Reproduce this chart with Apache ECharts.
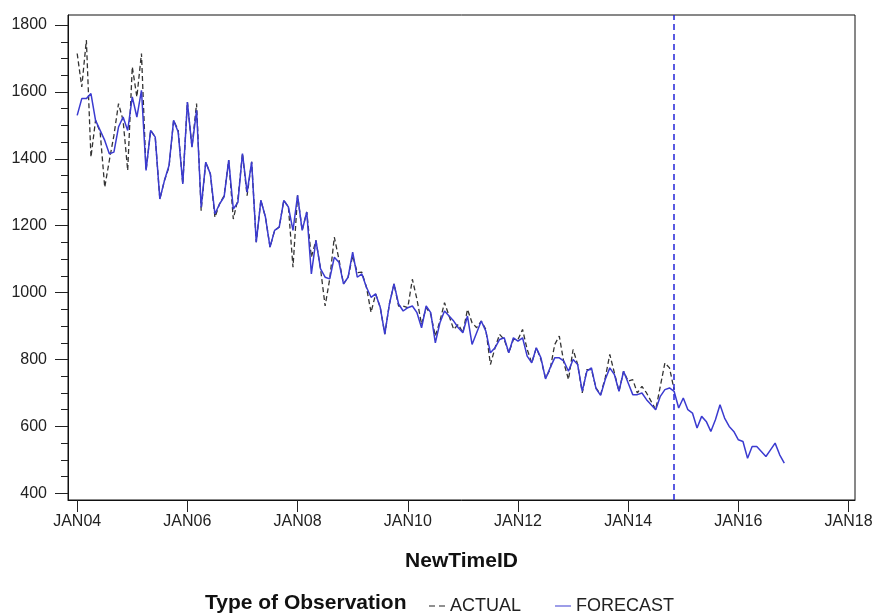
<!DOCTYPE html>
<html>
<head>
<meta charset="utf-8">
<script src="https://cdn.jsdelivr.net/npm/echarts@6/dist/echarts.min.js"></script>
<style>
html,body{margin:0;padding:0;background:#fff;}
#chart{width:872px;height:615px;}
</style>
</head>
<body>
<div id="chart"></div>
<script>
/* monthly series, month 0 = JAN04 */
var actual = [
    1715,1615,1755,1405,1515,1480,1315,1395,1470,1565,1515,1365,
    1675,1585,1715,1365,1485,1465,1280,1335,1375,1515,1485,1325,
    1570,1435,1565,1245,1390,1355,1225,1265,1290,1396,1220,1280,
    1416,1290,1391,1151,1276,1226,1136,1186,1196,1276,1256,1076,
    1291,1186,1241,1106,1156,1071,960,1041,1166,1100,1026,1046,
    1110,1060,1061,1016,941,996,956,876,966,1026,960,960,
    955,1040,980,905,955,935,870,915,970,930,890,905,
    880,950,910,895,915,890,785,835,875,860,820,860,
    860,890,830,790,835,800,745,770,845,870,790,740,
    830,785,700,770,770,715,695,745,815,760,705,765,
    735,740,700,720,700,675,650,720,790,775,710
];
var forecast = [
    1530,1580,1580,1595,1515,1485,1455,1415,1420,1495,1525,1485,
    1585,1525,1605,1365,1485,1465,1280,1335,1380,1515,1480,1325,
    1570,1435,1545,1255,1390,1355,1235,1265,1286,1396,1250,1270,
    1416,1300,1391,1151,1276,1226,1136,1186,1196,1276,1256,1186,
    1291,1186,1241,1056,1156,1071,1046,1041,1106,1091,1026,1046,
    1121,1046,1056,1016,986,996,956,876,966,1026,966,945,
    955,960,940,895,960,940,850,910,945,930,915,895,
    880,930,845,880,915,885,820,835,860,865,820,865,
    855,865,810,790,835,805,742,775,805,805,795,765,
    800,785,705,765,775,713,693,740,775,755,705,765,
    730,695,695,700,680,665,650,690,710,715,705,655,
    685,650,640,595,630,615,585,620,665,625,600,585,
    560,555,505,540,540,525,510,530,550,515,490
];
var lastActualMonth = 130;
var yMajor = [400,600,800,1000,1200,1400,1600,1800];
var yMinor = [450,500,550,650,700,750,850,900,950,1050,1100,1150,1250,1300,1350,1450,1500,1550,1650,1700,1750];
var xTicks = [0,24,48,72,96,120,144,168];
var xTickLabels = ['JAN04','JAN06','JAN08','JAN10','JAN12','JAN14','JAN16','JAN18'];

var myChart = echarts.init(document.getElementById('chart'));
var font = 'Liberation Sans, Arial, sans-serif';

function pairs(arr){
    return arr.map(function(v,i){ return [i,v]; });
}

var option = {
    animation:false,
    textStyle:{fontFamily:font},
    grid:{
        left:68, right:17, top:15, bottom:115,
        outerBoundsMode:'none',
        containLabel:false,
        show:true, borderColor:'#111', borderWidth:1
    },
    xAxis:{
        type:'value',
        min:-2, max:169.4,
        name:'NewTimeID',
        nameLocation:'middle',
        nameGap:51,
        nameTextStyle:{fontSize:21,fontWeight:'bold',color:'#111',fontFamily:font},
        axisLine:{show:true,onZero:false,lineStyle:{color:'#111'}},
        axisTick:{show:true,length:12,customValues:xTicks,lineStyle:{color:'#222'}},
        axisLabel:{
            customValues:xTicks,
            margin:14,
            fontSize:16,
            color:'#222',
            formatter:function(v){ return xTickLabels[xTicks.indexOf(v)]; }
        },
        splitLine:{show:false}
    },
    yAxis:[
        {
            type:'value',
            min:380, max:1830,
            axisLine:{show:true,onZero:false,lineStyle:{color:'#111'}},
            axisTick:{show:true,length:13,customValues:yMajor,lineStyle:{color:'#222'}},
            axisLabel:{
                customValues:yMajor,margin:21,fontSize:16,color:'#222',
                formatter:function(v){ return String(v); }
            },
            splitLine:{show:false}
        },
        {
            type:'value',
            min:380, max:1830,
            position:'left',
            axisLine:{show:false,onZero:false},
            axisTick:{show:true,length:7,customValues:yMinor,lineStyle:{color:'#222'}},
            axisLabel:{show:false},
            splitLine:{show:false}
        }
    ],
    legend:{
        left:424, top:592,
        itemWidth:16, itemHeight:2, itemGap:34, itemTextGap:7,
        textStyle:{fontSize:18,color:'#222',fontFamily:font},
        data:[
            {name:'ACTUAL',icon:'path://M0,0h6v1h-6z M10,0h6v1h-6z',itemStyle:{color:'#222'}},
            {name:'FORECAST',icon:'path://M0,0h16v1h-16z',itemStyle:{color:'#3b3bd0'}}
        ]
    },
    graphic:[
        {
            type:'text',
            left:205, top:593,
            style:{text:'Type of Observation',font:'bold 21px '+font,fill:'#111'}
        }
    ],
    series:[
        {
            name:'ACTUAL',
            type:'line',
            symbol:'none',
            data:pairs(actual),
            lineStyle:{color:'#333',width:1.3,type:[5,3]},
            itemStyle:{color:'#333'}
        },
        {
            name:'FORECAST',
            type:'line',
            symbol:'none',
            data:pairs(forecast),
            lineStyle:{color:'#3b3bd0',width:1.5},
            itemStyle:{color:'#3b3bd0'},
            markLine:{
                silent:true,
                symbol:['none','none'],
                label:{show:false},
                lineStyle:{color:'#2424d8',width:1.5,type:[6,4]},
                data:[{xAxis:lastActualMonth}]
            }
        }
    ]
};
myChart.setOption(option);
</script>
</body>
</html>
